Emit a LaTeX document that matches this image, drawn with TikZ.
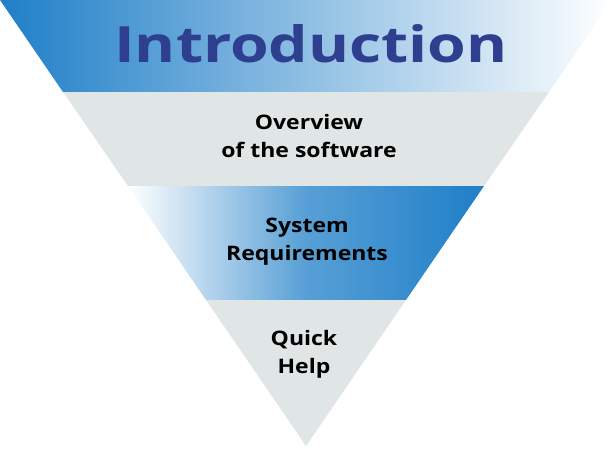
\documentclass[tikz,border=0pt]{standalone}
\usepackage{fontspec}
\setmainfont{Open Sans}
\definecolor{bandblue}{HTML}{1F7FC8}
\definecolor{bandgray}{HTML}{E0E5E5}
\definecolor{titleblue}{HTML}{2E3F8F}
\tikzset{lbl/.style={font=\bfseries\fontsize{20}{28}\selectfont, align=center, text=black, xscale=1.15}}
\begin{document}
\begin{tikzpicture}[x=1pt,y=-1pt]
\useasboundingbox (0,0) rectangle (612,448);
\shade[left color=bandblue, right color=white] (0,0) -- (612,0) -- (549,92) -- (63,92) -- cycle;
\fill[bandgray] (63,92) -- (549,92) -- (484,186) -- (128,186) -- cycle;
\shade[left color=white, right color=bandblue, middle color=bandblue!75] (128,186) -- (484,186) -- (406,300) -- (206,300) -- cycle;
\fill[bandgray] (206,300) -- (406,300) -- (306,446) -- cycle;
\node[font=\bfseries\fontsize{50}{56}\selectfont, text=titleblue, xscale=1.25] (t) at (311,44) {Introduction};
\node[lbl] (o) at (309,136) {Overview\\of the software};
\node[lbl] (s) at (307,242) {System\\Requirements};
\node[lbl] (q) at (304,354) {Quick\\Help};
\end{tikzpicture}
\end{document}
